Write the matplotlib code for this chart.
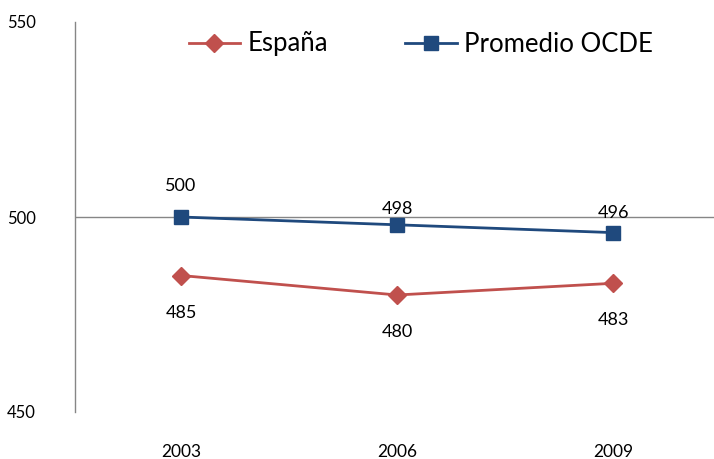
import matplotlib
matplotlib.use("Agg")
import matplotlib.pyplot as plt

years = ["2003", "2006", "2009"]
espana = [485, 480, 483]
ocde = [500, 498, 496]
yticks = [450, 500, 550]

plt.rcParams['font.family'] = ['Lato', 'DejaVu Sans']

fig = plt.figure(figsize=(7.14, 4.59), dpi=100)
ax = fig.add_axes([75/714, 47/459, 1 - 75/714, 390/459])

x = list(range(len(years)))
red = "#C0504D"
blue = "#1F497D"

ax.axhline(500, color="#868686", lw=1, zorder=1)
ax.plot(x, espana, color=red, lw=2, marker="D", markersize=9, label="España", zorder=3)
ax.plot(x, ocde, color=blue, lw=2, marker="s", markersize=10, label="Promedio OCDE", zorder=3)

above = [31, 16, 20]
for i, v in enumerate(ocde):
    ax.annotate(str(v), (i, v), xytext=(0, above[i] * 0.72), textcoords="offset points",
                ha="center", va="center", fontsize=13, color="#000000")
for i, v in enumerate(espana):
    ax.annotate(str(v), (i, v), xytext=(0, -37 * 0.72), textcoords="offset points",
                ha="center", va="center", fontsize=13, color="#000000")

ax.set_xlim(-106/216, 2 + 101/216)
ax.set_ylim(450, 550)
ax.set_xticks(x)
ax.set_xticklabels(years, fontsize=12.5)
ax.set_yticks(yticks)
ax.set_yticklabels([str(t) for t in yticks], fontsize=12)
ax.tick_params(axis="both", length=0)
ax.tick_params(axis="x", pad=23)
ax.tick_params(axis="y", pad=28)
for s in ["top", "right", "bottom"]:
    ax.spines[s].set_visible(False)
ax.spines["left"].set_color("#868686")
ax.spines["left"].set_linewidth(1)

leg = ax.legend(loc="center", bbox_to_anchor=((421 - 75) / 639, (459 - 44 - 47) / 390),
                ncol=2, frameon=False, fontsize=18.5, handlelength=2.0, handletextpad=0.3,
                columnspacing=3.0)

fig.savefig("out.png", dpi=100)
